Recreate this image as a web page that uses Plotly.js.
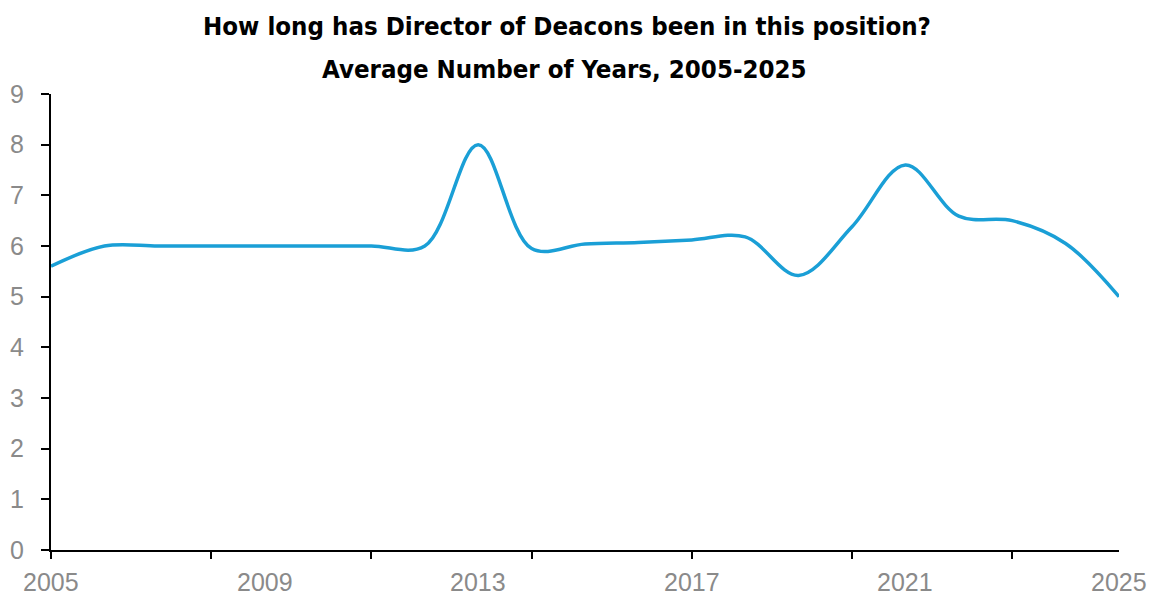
<!DOCTYPE html>
<html>
<head>
<meta charset="utf-8">
<script src="https://cdn.plot.ly/plotly-3.0.1.min.js"></script>
<style>
html,body{margin:0;padding:0;background:#fff;}
#chart{width:1157px;height:597px;}
</style>
</head>
<body>
<div id="chart"></div>
<script>
// Data
var years = [2005, 2006, 2007, 2008, 2009, 2010, 2011, 2012, 2013, 2014, 2015,
             2016, 2017, 2018, 2019, 2020, 2021, 2022, 2023, 2024, 2025];
var avgYears = [5.6, 6.0, 6.0, 6.0, 6.0, 6.0, 6.0, 6.0, 8.0, 5.95, 6.04,
                6.07, 6.12, 6.18, 5.42, 6.38, 7.6, 6.59, 6.5, 6.05, 5.0];
var labelYears = [2005, 2009, 2013, 2017, 2021, 2025];
var tickMarkYears = [2005, 2008, 2011, 2014, 2017, 2020, 2023];
var yTicks = [0, 1, 2, 3, 4, 5, 6, 7, 8, 9];
var titleLine1 = "How long has Director of Deacons been in this position?";
var titleLine2 = "Average Number of Years, 2005-2025";

var titleFont = {family: "'Liberation Sans Narrow', 'DejaVu Sans Condensed', 'Arial Narrow', sans-serif", size: 25.6, color: '#000000', weight: 'bold'};
var tickGray = '#8a8a8a';
var tickFamily = "'Liberation Sans', Arial, sans-serif";

var trace = {
  x: years,
  y: avgYears,
  type: 'scatter',
  mode: 'lines',
  line: {color: '#1a9fd6', width: 3.5, shape: 'spline', smoothing: 1},
  hoverinfo: 'x+y'
};

var annotations = [{
  text: '<b>' + titleLine2 + '</b>',
  font: titleFont,
  xref: 'paper', yref: 'paper',
  x: (564 - 51) / 1068,
  y: (550 - 69) / 456,
  xanchor: 'center', yanchor: 'middle',
  showarrow: false
}];
labelYears.forEach(function (yr) {
  annotations.push({
    text: String(yr),
    font: {family: tickFamily, size: 25, color: tickGray},
    xref: 'x', yref: 'paper',
    x: yr, y: 0,
    xanchor: 'center', yanchor: 'middle',
    yshift: -32,
    borderpad: 0,
    showarrow: false
  });
});

var layout = {
  width: 1157,
  height: 597,
  paper_bgcolor: '#ffffff',
  plot_bgcolor: '#ffffff',
  margin: {l: 51, r: 38, t: 94, b: 47},
  showlegend: false,
  title: {
    text: '<b>' + titleLine1 + '</b>',
    font: titleFont,
    x: 567 / 1157,
    xref: 'container',
    xanchor: 'center',
    y: 1 - 26 / 597,
    yref: 'container',
    yanchor: 'middle'
  },
  annotations: annotations,
  xaxis: {
    range: [2005, 2025],
    tickmode: 'array',
    tickvals: tickMarkYears,
    ticks: 'outside',
    ticklen: 7,
    tickwidth: 2,
    tickcolor: '#000000',
    showticklabels: false,
    showline: true,
    linecolor: '#000000',
    linewidth: 2,
    showgrid: false,
    zeroline: false,
    fixedrange: true
  },
  yaxis: {
    range: [0, 9],
    tickmode: 'array',
    tickvals: yTicks,
    ticktext: yTicks.map(String),
    ticks: 'outside',
    ticklen: 8,
    tickwidth: 2,
    tickcolor: '#000000',
    ticklabelstandoff: 12,
    tickfont: {family: tickFamily, size: 25, color: tickGray},
    showline: true,
    linecolor: '#000000',
    linewidth: 2,
    showgrid: false,
    zeroline: false,
    fixedrange: true
  }
};

Plotly.newPlot('chart', [trace], layout, {displayModeBar: false, staticPlot: true});
</script>
</body>
</html>
